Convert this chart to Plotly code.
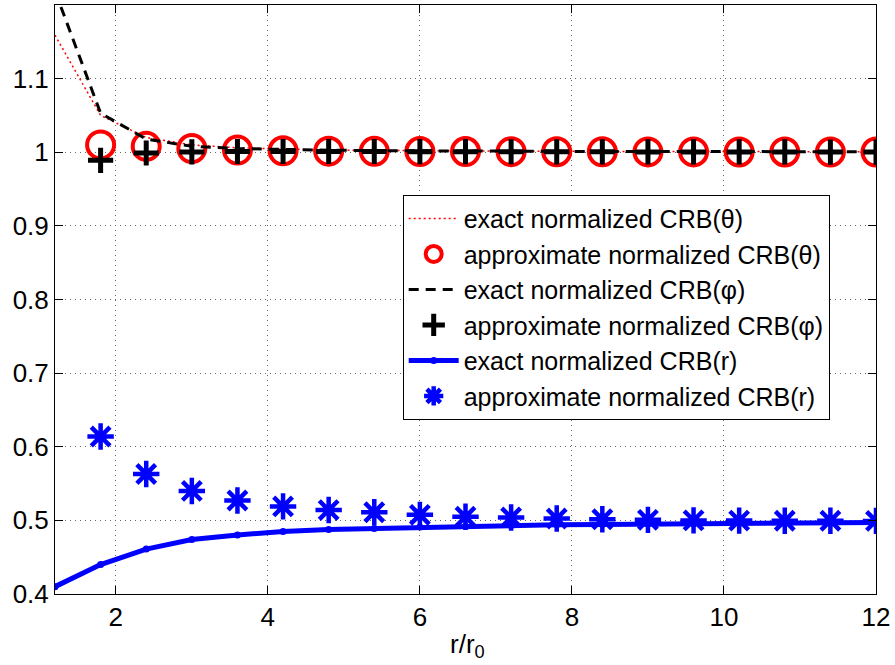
import plotly.graph_objects as go

# ---- data ----
x_exact = [1.2, 1.8, 2.4, 3.0, 3.6, 4.2, 4.8, 5.4, 6.0, 6.6, 7.2, 7.8, 8.4, 9.0, 9.6, 10.2, 10.8, 11.4, 12.0]
x_approx = [1.8, 2.4, 3.0, 3.6, 4.2, 4.8, 5.4, 6.0, 6.6, 7.2, 7.8, 8.4, 9.0, 9.6, 10.2, 10.8, 11.4, 12.0]

theta_exact = [1.159, 1.050, 1.020, 1.010, 1.006, 1.004, 1.003, 1.0025, 1.002, 1.0018, 1.0015, 1.0013,
               1.0012, 1.001, 1.001, 1.0009, 1.0008, 1.0008, 1.0007]
theta_approx = [1.010, 1.008, 1.005, 1.003, 1.002, 1.0015, 1.0012, 1.001, 1.001, 1.0008, 1.0007, 1.0006,
                1.0005, 1.0005, 1.0004, 1.0004, 1.0003, 1.0003]
phi_exact = [1.219, 1.053, 1.018, 1.008, 1.005, 1.0035, 1.0028, 1.0022, 1.0018, 1.0015, 1.0013, 1.0012,
             1.001, 1.001, 1.0009, 1.0008, 1.0008, 1.0007, 1.0007]
phi_approx = [0.989, 0.999, 1.0005, 1.001, 1.001, 1.001, 1.001, 1.0008, 1.0008, 1.0007, 1.0006, 1.0006,
              1.0005, 1.0005, 1.0004, 1.0004, 1.0003, 1.0003]
r_exact = [0.410, 0.440, 0.461, 0.474, 0.480, 0.485, 0.4875, 0.489, 0.491, 0.492, 0.493, 0.494,
           0.4945, 0.495, 0.4955, 0.496, 0.4963, 0.4967, 0.497]
r_approx = [0.614, 0.563, 0.540, 0.527, 0.519, 0.514, 0.511, 0.5075, 0.505, 0.504, 0.5025, 0.5015,
            0.5007, 0.5, 0.4997, 0.4995, 0.4995, 0.4993]

x_ticks = [2, 4, 6, 8, 10, 12]
y_ticks = [0.4, 0.5, 0.6, 0.7, 0.8, 0.9, 1.0, 1.1]
y_tick_text = ["0.4", "0.5", "0.6", "0.7", "0.8", "0.9", "1", "1.1"]

FONT = "Liberation Sans, Arial, sans-serif"

fig = go.Figure()
fig.add_trace(go.Scatter(x=x_exact, y=theta_exact, mode="lines", name="exact normalized CRB(θ)",
                         line=dict(color="red", width=1.5, dash="2px,3px")))
fig.add_trace(go.Scatter(x=x_approx, y=theta_approx, mode="markers", name="approximate normalized CRB(θ)",
                         marker=dict(symbol="circle-open", size=27, color="red", line=dict(color="red", width=4))))
fig.add_trace(go.Scatter(x=x_exact, y=phi_exact, mode="lines", name="exact normalized CRB(φ)",
                         line=dict(color="black", width=3, dash="10px,7px")))
fig.add_trace(go.Scatter(x=x_approx, y=phi_approx, mode="markers", name="approximate normalized CRB(φ)",
                         marker=dict(symbol="cross-thin-open", size=18, color="black", line=dict(color="black", width=5))))
fig.add_trace(go.Scatter(x=x_exact, y=r_exact, mode="lines+markers", name="exact normalized CRB(r)",
                         line=dict(color="blue", width=5),
                         marker=dict(symbol="circle", size=7, color="blue")))
fig.add_trace(go.Scatter(x=x_approx, y=r_approx, mode="markers", name="approximate normalized CRB(r)",
                         marker=dict(symbol="asterisk-open", size=22, color="blue", line=dict(color="blue", width=4.5))))

axis_common = dict(
    showline=True, linecolor="black", linewidth=1, mirror="ticks",
    ticks="inside", ticklen=8, tickwidth=1, tickcolor="black",
    showgrid=True, gridcolor="#666", gridwidth=1, griddash="1px,4px",
    zeroline=False, tickfont=dict(family=FONT, size=26, color="black"),
)

fig.update_layout(
    width=895, height=665,
    margin=dict(l=55, r=19, t=5, b=71),
    paper_bgcolor="white", plot_bgcolor="white",
    font=dict(family=FONT, size=26, color="black"),
    showlegend=True,
    legend=dict(
        x=0.4235, y=0.678, xanchor="left", yanchor="top",
        bgcolor="white", bordercolor="black", borderwidth=1,
        font=dict(family=FONT, size=25, color="black"),
        itemwidth=50, tracegroupgap=0,
        entrywidth=400, entrywidthmode="pixels",
    ),
    xaxis=dict(range=[1.2, 12], tickvals=x_ticks, **axis_common),
    yaxis=dict(range=[0.4, 1.2], tickvals=y_ticks, ticktext=y_tick_text, **axis_common),
    annotations=[dict(text="r/r<sub>0</sub>", xref="paper", yref="paper",
                      x=(467 - 55) / 821, y=-(627 - 594) / 589, xanchor="center", yanchor="top",
                      showarrow=False, font=dict(family=FONT, size=26, color="black"))],
)

fig.write_html("out.html", config={"displayModeBar": False},
               post_script="document.body.style.margin='0';")
